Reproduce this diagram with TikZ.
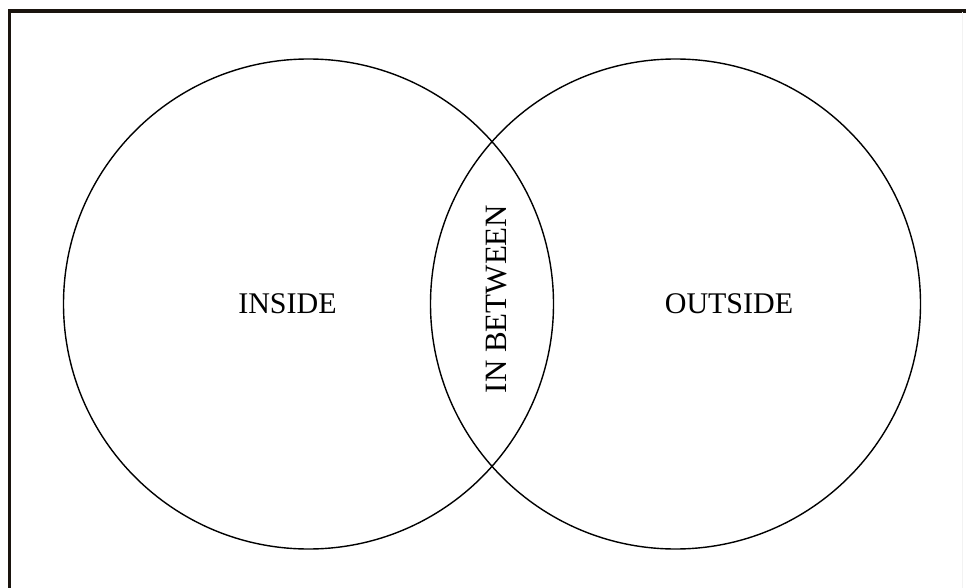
\documentclass[tikz,border=0pt]{standalone}
\usepackage{fontspec}
\setmainfont{Liberation Serif}
\begin{document}
\begin{tikzpicture}[x=1pt,y=-1pt,
  ring/.style={draw=black,line width=1.4pt},
  frameline/.style={draw={rgb,255:red,26;green,20;blue,14},line width=3.2pt},
  lbl/.style={font=\fontsize{30}{30}\selectfont,inner sep=0pt,anchor=base}]
\useasboundingbox (0,0) rectangle (966,588);
\coordinate (tl) at (9.5,11);
\coordinate (tr) at (966,11);
\coordinate (bl) at (9.5,588);
\draw[frameline] (tr) -- (tl) -- (bl);
\draw[gray!10,line width=0.6pt] (962.5,12) -- (962.5,588);
\node[ring,circle,minimum size=490pt,inner sep=0pt] (inside) at (308.5,304) {};
\node[ring,circle,minimum size=490pt,inner sep=0pt] (outside) at (675.5,304) {};
\node[lbl] (tin) at (287.5,313) {INSIDE};
\node[lbl] (tout) at (729,313) {OUTSIDE};
\node[lbl,rotate=90,font=\fontsize{31}{31}\selectfont] (tmid) at (506,299) {IN BETWEEN};
\end{tikzpicture}
\end{document}
